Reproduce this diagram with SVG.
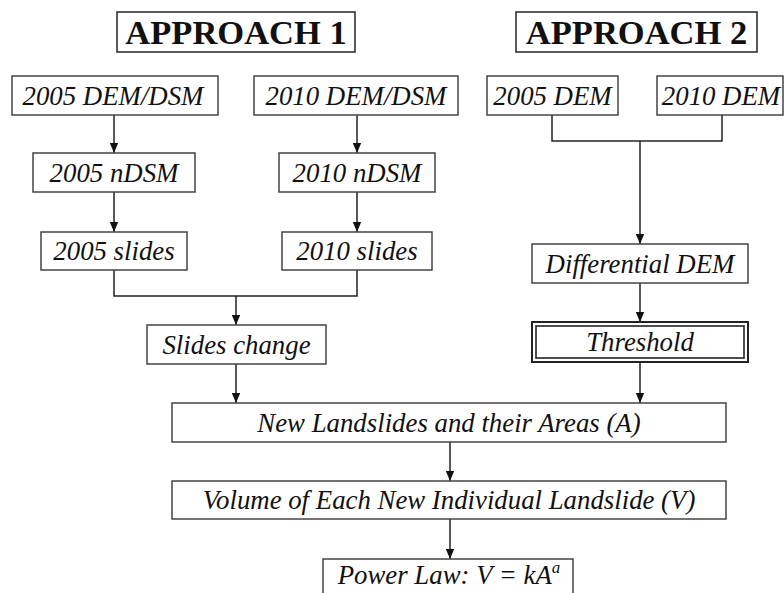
<svg xmlns="http://www.w3.org/2000/svg" width="784" height="593" viewBox="0 0 784 593">
<defs>
<marker id="ah" markerUnits="userSpaceOnUse" markerWidth="10" markerHeight="10" refX="10" refY="5" orient="auto">
<path d="M0,0.8 L10,5 L0,9.2 z" fill="#111"/>
</marker>
<style>
.box{fill:#fff;stroke:#444;stroke-width:1.5}
.hbox{fill:#fff;stroke:#333;stroke-width:1.6}
.t{font-family:"Liberation Serif","Times New Roman",serif;font-style:italic;font-size:26.8px;fill:#111;text-anchor:middle}
.h{font-family:"Liberation Serif","Times New Roman",serif;font-weight:bold;font-size:34.5px;fill:#111;text-anchor:middle}
.ln{fill:none;stroke:#222;stroke-width:1.5}
</style>
</defs>
<rect width="784" height="593" fill="#fff"/>
<g id="connectors">
<path class="ln" d="M114,115 V153" marker-end="url(#ah)"/>
<path class="ln" d="M357,115 V153" marker-end="url(#ah)"/>
<path class="ln" d="M114,192 V232" marker-end="url(#ah)"/>
<path class="ln" d="M357,192 V232" marker-end="url(#ah)"/>
<path class="ln" d="M114,270 V296 H357 V270"/>
<path class="ln" d="M236,296 V325" marker-end="url(#ah)"/>
<path class="ln" d="M552,115 V141 H722 V115"/>
<path class="ln" d="M640,141 V244" marker-end="url(#ah)"/>
<path class="ln" d="M640,283 V322" marker-end="url(#ah)"/>
<path class="ln" d="M236,364 V403" marker-end="url(#ah)"/>
<path class="ln" d="M640,362 V403" marker-end="url(#ah)"/>
<path class="ln" d="M450,442 V481" marker-end="url(#ah)"/>
<path class="ln" d="M450,519 V559" marker-end="url(#ah)"/>
</g>
<g id="approach1"><rect class="hbox" x="117" y="12" width="238" height="40"/><text class="h" x="236" y="44">APPROACH 1</text></g>
<g id="approach2"><rect class="hbox" x="516" y="12" width="241" height="40"/><text class="h" x="636.5" y="44">APPROACH 2</text></g>
<g id="dem2005dsm"><rect class="box" x="12" y="76" width="206" height="39"/><text class="t" x="113" y="104.5">2005 DEM/DSM</text></g>
<g id="dem2010dsm"><rect class="box" x="254" y="76" width="204" height="39"/><text class="t" x="356" y="104.5">2010 DEM/DSM</text></g>
<g id="dem2005"><rect class="box" x="487" y="76" width="131" height="39"/><text class="t" x="552.5" y="104.5">2005 DEM</text></g>
<g id="dem2010"><rect class="box" x="657" y="76" width="126" height="39"/><text class="t" x="721" y="104.5">2010 DEM</text></g>
<g id="ndsm2005"><rect class="box" x="33" y="153" width="162" height="39"/><text class="t" x="114" y="181.5">2005 nDSM</text></g>
<g id="ndsm2010"><rect class="box" x="279" y="153" width="156" height="39"/><text class="t" x="357" y="181.5">2010 nDSM</text></g>
<g id="slides2005"><rect class="box" x="41" y="232" width="146" height="38"/><text class="t" x="114" y="260">2005 slides</text></g>
<g id="slides2010"><rect class="box" x="282" y="232" width="150" height="38"/><text class="t" x="357" y="260">2010 slides</text></g>
<g id="slideschange"><rect class="box" x="147" y="325" width="179" height="39"/><text class="t" x="236.5" y="353.5">Slides change</text></g>
<g id="diffdem"><rect class="box" x="532" y="244" width="216" height="39"/><text class="t" x="640" y="272.5">Differential DEM</text></g>
<g id="threshold"><rect x="532" y="322" width="216" height="40" fill="#fff" stroke="#222" stroke-width="2"/><rect x="536" y="326" width="208" height="32" fill="none" stroke="#222" stroke-width="1.6"/><text class="t" x="640" y="351">Threshold</text></g>
<g id="newlandslides"><rect class="box" x="172" y="403" width="554" height="39"/><text class="t" x="449" y="431.5">New Landslides and their Areas (A)</text></g>
<g id="volume"><rect class="box" x="172" y="481" width="554" height="38"/><text class="t" x="449" y="509">Volume of Each New Individual Landslide (V)</text></g>
<g id="powerlaw"><rect class="box" x="323" y="559" width="250" height="44"/><text class="t" x="449" y="584">Power Law: V = kA<tspan font-size="17" dy="-11">a</tspan></text></g>
</svg>
